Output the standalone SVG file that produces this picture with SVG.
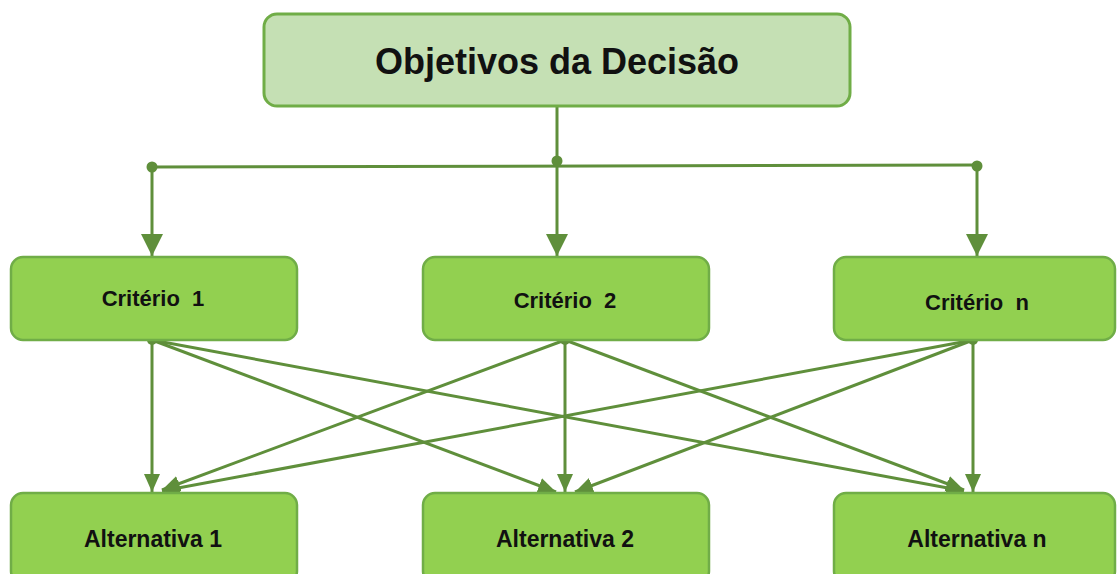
<svg xmlns="http://www.w3.org/2000/svg" width="1117" height="574" viewBox="0 0 1117 574">
<style>
.top{fill:#c5e0b4;stroke:#70ad47;stroke-width:3}
.box{fill:#92d050;stroke:#70ad47;stroke-width:2.5}
.t{font-family:"Liberation Sans",Arial,sans-serif;font-weight:bold;fill:#111;text-anchor:middle;white-space:pre}
.c{stroke:#5f8f3b;stroke-width:3;fill:none}
.d{fill:#5f8f3b}
</style>
<defs>
<marker id="big" markerUnits="userSpaceOnUse" markerWidth="22" markerHeight="24" refX="22" refY="11" orient="auto"><path d="M0,0 L22,11 L0,22 Z" fill="#5f8f3b"/></marker>
<marker id="sm" markerUnits="userSpaceOnUse" markerWidth="18" markerHeight="18" refX="18" refY="8" orient="auto"><path d="M0,0 L18,8 L0,16 Z" fill="#5f8f3b"/></marker>
</defs>
<g id="connectors">
<path class="c" d="M557,106 V161"/>
<path class="c" d="M152,167 L977,165"/>
<path class="c" d="M152,167 V256" marker-end="url(#big)"/>
<path class="c" d="M557,161 V256" marker-end="url(#big)"/>
<path class="c" d="M977,166 V256" marker-end="url(#big)"/>
<circle class="d" cx="152" cy="167" r="5.5"/>
<circle class="d" cx="557" cy="161" r="5.5"/>
<circle class="d" cx="977" cy="166" r="5.5"/>
<path class="c" d="M152,340 V492" marker-end="url(#sm)"/>
<path class="c" d="M152,340 L556,492" marker-end="url(#sm)"/>
<path class="c" d="M152,340 L964,491" marker-end="url(#sm)"/>
<path class="c" d="M565,340 L162,490" marker-end="url(#sm)"/>
<path class="c" d="M565,340 V492" marker-end="url(#sm)"/>
<path class="c" d="M565,340 L964,490" marker-end="url(#sm)"/>
<path class="c" d="M973,340 L162,491" marker-end="url(#sm)"/>
<path class="c" d="M973,340 L575,492" marker-end="url(#sm)"/>
<path class="c" d="M973,340 V492" marker-end="url(#sm)"/>
<circle class="d" cx="152" cy="340" r="5"/>
<circle class="d" cx="565" cy="340" r="5"/>
<circle class="d" cx="973" cy="340" r="5"/>
</g>
<g id="objetivos">
<rect class="top" x="264" y="14" width="586" height="92" rx="13"/>
<text class="t" x="557" y="74" font-size="36">Objetivos da Decisão</text>
</g>
<g id="criterio1">
<rect class="box" x="11" y="257" width="286" height="83" rx="12"/>
<text class="t" x="153" y="306" font-size="22" xml:space="preserve">Critério  1</text>
</g>
<g id="criterio2">
<rect class="box" x="423" y="257" width="286" height="83" rx="12"/>
<text class="t" x="565" y="308" font-size="22" xml:space="preserve">Critério  2</text>
</g>
<g id="criterion">
<rect class="box" x="834" y="257" width="281" height="83" rx="12"/>
<text class="t" x="977" y="310" font-size="22" xml:space="preserve">Critério  n</text>
</g>
<g id="alternativa1">
<rect class="box" x="11" y="493" width="286" height="90" rx="12"/>
<text class="t" x="153" y="547" font-size="23">Alternativa 1</text>
</g>
<g id="alternativa2">
<rect class="box" x="423" y="493" width="286" height="90" rx="12"/>
<text class="t" x="565" y="547" font-size="23">Alternativa 2</text>
</g>
<g id="alternativan">
<rect class="box" x="834" y="493" width="281" height="90" rx="12"/>
<text class="t" x="977" y="547" font-size="23">Alternativa n</text>
</g>
</svg>
